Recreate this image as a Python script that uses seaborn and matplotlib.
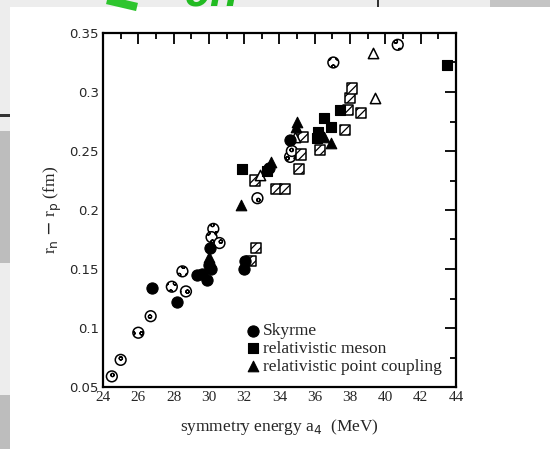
import matplotlib
matplotlib.use("Agg")
import matplotlib.pyplot as plt
import seaborn as sns
from matplotlib.patches import Rectangle
from matplotlib.lines import Line2D
from matplotlib.ticker import MultipleLocator

# --- data: neutron skin thickness vs. symmetry energy -----------------------
skyrme_x = [26.8, 28.2, 29.3, 29.6, 29.9, 30.0, 30.1, 30.05, 32.0, 32.05, 33.4, 34.6]
skyrme_y = [0.134, 0.122, 0.145, 0.146, 0.141, 0.153, 0.150, 0.168, 0.150, 0.157, 0.236, 0.259]

skyrme_alt_x = [24.5, 25.0, 26.0, 26.7, 27.9, 28.5, 28.7, 30.25, 30.15, 30.6, 32.75, 34.6, 34.7, 37.05, 40.7]
skyrme_alt_y = [0.059, 0.073, 0.096, 0.110, 0.135, 0.148, 0.131, 0.184, 0.177, 0.172, 0.210, 0.245, 0.250, 0.325, 0.340]

meson_x = [31.9, 33.3, 36.1, 36.2, 36.5, 36.9, 37.4, 43.5]
meson_y = [0.235, 0.233, 0.261, 0.266, 0.278, 0.270, 0.285, 0.323]

meson_alt_x = [32.4, 32.65, 32.6, 33.8, 34.3, 35.1, 35.2, 35.35, 36.3, 37.9, 38.0, 38.1, 38.6, 37.7]
meson_alt_y = [0.157, 0.168, 0.225, 0.218, 0.218, 0.235, 0.247, 0.262, 0.251, 0.285, 0.295, 0.303, 0.282, 0.268]

pc_x = [30.0, 31.8, 33.5, 34.95, 35.0, 36.9, 36.5]
pc_y = [0.160, 0.204, 0.241, 0.270, 0.275, 0.257, 0.262]

pc_alt_x = [32.9, 34.9, 39.3, 39.4]
pc_alt_y = [0.230, 0.262, 0.333, 0.295]

x_ticks = [24, 26, 28, 30, 32, 34, 36, 38, 40, 42, 44]
y_ticks = [0.05, 0.1, 0.15, 0.2, 0.25, 0.3, 0.35]
y_tick_labels = ["0.05", "0.1", "0.15", "0.2", "0.25", "0.3", "0.35"]

sns.set_style("white")
plt.rcParams["font.family"] = ["DejaVu Sans"]
plt.rcParams["hatch.linewidth"] = 0.9

W, H = 550, 449
fig = plt.figure(figsize=(W / 100, H / 100), dpi=100, facecolor="#ededed")


def px_rect(x0, y0, x1, y1, color, z=0):
    fig.patches.append(Rectangle((x0 / W, 1 - y1 / H), (x1 - x0) / W, (y1 - y0) / H,
                                 transform=fig.transFigure, facecolor=color,
                                 edgecolor="none", zorder=z))


# page backdrop around the figure panel
px_rect(10, 7, 550, 449, "white", z=-5)
px_rect(0, 131, 10, 263, "#bdbdbd")
px_rect(0, 395, 10, 449, "#bdbdbd")
px_rect(0, 114, 10, 117, "#333333")
px_rect(490, 0, 550, 7, "#c4c4c4")
px_rect(377, 0, 379, 7, "#333333")
fig.lines.append(Line2D([107 / W, 137 / W], [1.0, 1 - 7 / H], transform=fig.transFigure,
                        color="#2ec52e", linewidth=6, solid_capstyle="butt"))
fig.text(185 / W, 1 - 5 / H, "off", color="#22bb22", fontsize=26, fontweight="bold",
         fontstyle="italic", va="baseline", ha="left")

ax = fig.add_axes([103 / W, 1 - 387 / H, (456 - 103) / W, (387 - 33) / H])
ax.set_facecolor("white")

filled_kw = dict(color="black", edgecolor="black", linewidth=0.8, zorder=3)
open_kw = dict(color="white", edgecolor="black", linewidth=1.1, zorder=3)

sns.scatterplot(x=skyrme_alt_x, y=skyrme_alt_y, marker="o", s=60, hatch="oo", ax=ax, **open_kw)
sns.scatterplot(x=meson_alt_x, y=meson_alt_y, marker="s", s=55, hatch="////", ax=ax, **open_kw)
sns.scatterplot(x=pc_alt_x, y=pc_alt_y, marker="^", s=55, ax=ax, **open_kw)
sns.scatterplot(x=skyrme_x, y=skyrme_y, marker="o", s=65, ax=ax, label="Skyrme", **filled_kw)
sns.scatterplot(x=meson_x, y=meson_y, marker="s", s=58, ax=ax, label="relativistic meson", **filled_kw)
sns.scatterplot(x=pc_x, y=pc_y, marker="^", s=58, ax=ax, label="relativistic point coupling", **filled_kw)

ax.set_xlim(24, 44)
ax.set_ylim(0.05, 0.35)
ax.set_xticks(x_ticks)
ax.set_yticks(y_ticks)
ax.set_yticklabels(y_tick_labels)
ax.xaxis.set_minor_locator(MultipleLocator(1))
ax.yaxis.set_minor_locator(MultipleLocator(0.025))
ax.tick_params(which="both", direction="in", top=True, right=True, color="black",
               width=1.3, pad=3)
ax.tick_params(which="major", length=8)
ax.tick_params(which="minor", length=4.5)
for lab in ax.get_xticklabels():
    lab.set_fontfamily("Liberation Serif")
    lab.set_fontsize(11)
for lab in ax.get_yticklabels():
    lab.set_fontfamily("DejaVu Sans")
    lab.set_fontsize(9.5)
for sp in ax.spines.values():
    sp.set_visible(True)
    sp.set_color("black")
    sp.set_linewidth(1.6)

ax.set_xlabel(r"symmetry energy a$_4$  (MeV)", fontfamily="Liberation Serif", fontsize=12.5,
              labelpad=9)
ax.set_ylabel(r"r$_\mathrm{n}$ $-$ r$_\mathrm{p}$ (fm)", fontfamily="Liberation Serif",
              fontsize=12.5, labelpad=4)

leg = ax.legend(loc="lower right", bbox_to_anchor=(0.995, 0.0), frameon=False,
                prop={"family": "Liberation Serif", "size": 12.5}, handletextpad=0.15,
                handlelength=0.9, labelspacing=0.1, borderaxespad=0.3, markerscale=1.0)

fig.savefig("out.png", dpi=100, facecolor=fig.get_facecolor())
